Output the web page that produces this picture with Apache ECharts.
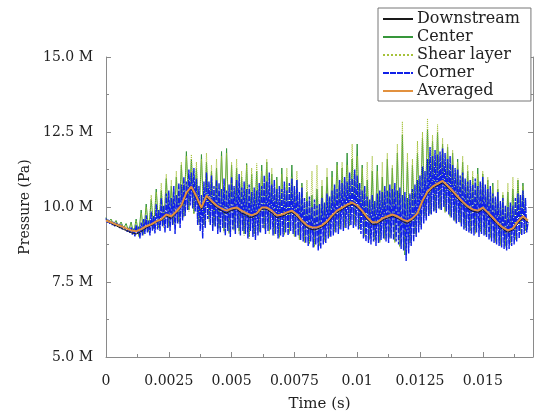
<!DOCTYPE html>
<html>
<head>
<meta charset="utf-8">
<script src="https://cdn.jsdelivr.net/npm/echarts@6/dist/echarts.min.js"></script>
<style>
  html, body { margin: 0; padding: 0; background: #fff; }
  #chart { width: 541px; height: 412px; }
</style>
</head>
<body>
<div id="chart"></div>
<script>
// Pressure probes (values in MPa). Corner is sampled every 0.05 ms,
// the other probes every 0.1 ms, the running average every 0.2 ms.
const cornerStep = 0.00005;
const probeStep = 0.0001;
const averagedStep = 0.0002;

const downstream = [
  9.58, 9.50, 9.47, 9.40, 9.38, 9.33, 9.30, 9.25, 9.22, 9.18,
  9.15, 9.12, 9.10, 9.14, 9.18, 9.24, 9.30, 9.35, 9.38, 9.44,
  9.48, 9.55, 9.55, 9.62, 9.70, 9.66, 9.62, 9.72, 9.80, 9.92,
  10.00, 10.20, 10.42, 10.55, 10.62, 10.45, 10.28, 10.08, 9.92, 10.12,
  10.32, 10.22, 10.15, 10.05, 9.98, 9.92, 9.88, 9.82, 9.80, 9.85,
  9.88, 9.92, 9.93, 9.86, 9.80, 9.76, 9.72, 9.66, 9.65, 9.70,
  9.74, 9.82, 9.92, 9.94, 9.92, 9.86, 9.80, 9.72, 9.65, 9.67,
  9.70, 9.72, 9.76, 9.80, 9.82, 9.76, 9.68, 9.58, 9.48, 9.40,
  9.32, 9.28, 9.25, 9.24, 9.26, 9.30, 9.34, 9.40, 9.46, 9.56,
  9.66, 9.74, 9.82, 9.88, 9.92, 9.98, 10.02, 10.06, 10.10, 10.04,
  9.98, 9.90, 9.82, 9.70, 9.58, 9.50, 9.42, 9.42, 9.44, 9.50,
  9.55, 9.60, 9.62, 9.66, 9.70, 9.66, 9.62, 9.58, 9.52, 9.48,
  9.46, 9.52, 9.56, 9.66, 9.75, 9.96, 10.16, 10.30, 10.45, 10.55,
  10.62, 10.68, 10.72, 10.76, 10.80, 10.74, 10.64, 10.55, 10.48, 10.38,
  10.28, 10.20, 10.12, 10.04, 9.96, 9.90, 9.86, 9.84, 9.82, 9.86,
  9.92, 9.84, 9.76, 9.66, 9.58, 9.48, 9.40, 9.32, 9.26, 9.20,
  9.16, 9.20, 9.24, 9.34, 9.46, 9.55, 9.62, 9.56, 9.50
];

const center = [
  9.65, 9.50, 9.60, 9.42, 9.55, 9.35, 9.50, 9.30, 9.45, 9.20,
  9.50, 9.10, 9.60, 9.05, 9.90, 9.10, 10.10, 9.20, 10.25, 9.30,
  10.60, 9.30, 10.55, 9.40, 10.95, 9.35, 10.70, 9.45, 11.00, 9.50,
  11.40, 9.70, 11.85, 9.90, 11.60, 9.80, 11.30, 9.50, 11.75, 9.40,
  11.50, 9.60, 11.20, 9.40, 11.30, 9.30, 11.85, 9.20, 11.95, 9.15,
  11.40, 9.25, 11.30, 9.20, 11.00, 9.10, 11.45, 9.00, 11.10, 9.10,
  11.20, 9.20, 11.40, 9.30, 11.50, 9.20, 11.10, 9.10, 11.00, 9.00,
  11.30, 9.10, 11.00, 9.15, 11.40, 9.05, 10.90, 8.95, 10.80, 8.85,
  10.50, 8.80, 10.40, 8.70, 10.60, 8.75, 10.70, 8.90, 11.00, 9.05,
  11.20, 9.20, 11.50, 9.30, 11.30, 9.35, 11.80, 9.40, 11.60, 9.45,
  12.10, 9.30, 11.40, 9.05, 10.90, 8.95, 11.20, 8.90, 11.40, 8.85,
  11.00, 8.95, 11.60, 9.00, 11.30, 8.85, 11.80, 8.70, 12.40, 8.40,
  11.50, 8.80, 11.40, 9.10, 11.80, 9.40, 12.30, 9.70, 12.60, 9.80,
  12.20, 9.90, 12.50, 9.95, 12.10, 9.85, 12.00, 9.70, 11.80, 9.55,
  11.60, 9.50, 11.50, 9.30, 11.20, 9.20, 11.00, 9.15, 11.30, 9.20,
  11.10, 9.10, 10.90, 9.00, 10.80, 8.85, 10.60, 8.75, 10.40, 8.70,
  10.50, 8.80, 10.60, 8.95, 10.90, 9.15, 10.80, 9.20, 9.45
];

const shearLayer = [
  9.62, 9.48, 9.58, 9.40, 9.52, 9.33, 9.46, 9.28, 9.40, 9.18,
  9.45, 9.08, 9.55, 9.00, 9.80, 9.05, 10.00, 9.15, 10.40, 9.25,
  10.50, 9.25, 10.80, 9.30, 11.10, 9.30, 10.90, 9.40, 11.20, 9.45,
  11.50, 9.65, 11.70, 9.85, 11.75, 9.75, 11.50, 9.40, 11.60, 9.35,
  11.80, 9.50, 11.40, 9.35, 11.60, 9.25, 11.70, 9.15, 11.80, 9.10,
  11.50, 9.20, 11.60, 9.10, 11.20, 9.05, 11.40, 8.95, 11.30, 9.05,
  11.45, 9.15, 11.20, 9.25, 11.60, 9.10, 11.30, 9.05, 10.90, 8.95,
  11.10, 9.05, 11.30, 9.10, 11.00, 9.00, 11.20, 8.90, 10.70, 8.80,
  10.90, 8.75, 11.20, 8.65, 11.40, 8.70, 10.90, 8.85, 11.30, 9.00,
  11.00, 9.15, 11.40, 9.25, 11.50, 9.30, 11.40, 9.35, 12.10, 9.40,
  11.70, 9.25, 11.30, 9.00, 11.50, 8.90, 11.70, 8.85, 11.20, 8.80,
  11.50, 8.90, 11.80, 8.95, 11.40, 8.80, 12.10, 8.65, 12.85, 8.50,
  11.80, 8.75, 11.60, 9.05, 12.20, 9.35, 12.50, 9.65, 12.95, 9.75,
  12.40, 9.85, 12.75, 9.90, 12.30, 9.80, 12.10, 9.65, 11.90, 9.50,
  11.50, 9.45, 11.70, 9.25, 11.40, 9.15, 11.20, 9.10, 11.10, 9.15,
  11.20, 9.05, 11.00, 8.95, 10.70, 8.80, 10.90, 8.70, 10.50, 8.65,
  10.80, 8.75, 11.00, 8.90, 10.95, 9.10, 10.70, 9.15, 9.42
];

const corner = [
  9.62, 9.48, 9.57, 9.44, 9.52, 9.40, 9.50, 9.36, 9.47, 9.38,
  9.45, 9.30, 9.41, 9.26, 9.36, 9.28, 9.33, 9.18, 9.30, 9.14,
  9.32, 9.08, 9.28, 9.02, 9.40, 9.10, 9.35, 8.95, 9.48, 9.05,
  9.60, 9.10, 9.72, 9.15, 9.55, 9.05, 9.85, 9.20, 9.70, 9.12,
  10.10, 9.25, 9.90, 9.20, 10.30, 9.35, 10.05, 9.15, 10.45, 9.30,
  10.55, 9.20, 10.30, 9.40, 10.70, 9.10, 10.40, 9.45, 10.80, 9.30,
  10.75, 9.55, 11.00, 9.70, 10.85, 9.90, 11.25, 10.05, 11.15, 9.95,
  11.30, 9.85, 10.95, 9.40, 10.70, 9.20, 10.40, 8.95, 10.85, 9.30,
  11.15, 9.60, 10.85, 9.40, 11.05, 9.20, 10.70, 9.35, 10.90, 9.10,
  10.80, 9.15, 10.60, 9.30, 10.95, 9.05, 10.55, 9.20, 10.75, 9.00,
  11.00, 9.25, 10.70, 9.10, 10.90, 9.30, 11.10, 9.05, 10.65, 9.20,
  10.85, 9.10, 10.60, 8.95, 10.75, 9.20, 10.50, 9.00, 10.65, 8.90,
  10.55, 9.05, 10.80, 9.15, 10.70, 9.30, 11.05, 9.10, 10.85, 9.20,
  11.15, 9.25, 10.75, 9.05, 10.90, 9.10, 10.60, 8.95, 10.70, 9.05,
  10.60, 9.00, 10.85, 9.15, 10.55, 9.05, 10.80, 9.20, 10.95, 9.10,
  10.70, 9.00, 10.90, 9.05, 10.50, 8.90, 10.65, 8.85, 10.30, 8.80,
  10.20, 8.70, 10.35, 8.85, 10.00, 8.65, 10.25, 8.75, 10.05, 8.55,
  10.10, 8.60, 10.30, 8.75, 10.15, 8.80, 10.45, 8.95, 10.35, 9.00,
  10.55, 9.05, 10.75, 9.15, 10.60, 9.10, 10.90, 9.25, 10.80, 9.20,
  11.00, 9.30, 10.85, 9.25, 11.15, 9.40, 10.95, 9.30, 11.25, 9.35,
  11.05, 9.25, 10.80, 9.10, 10.55, 8.95, 10.70, 8.85, 10.35, 8.80,
  10.25, 8.75, 10.40, 8.85, 10.20, 8.70, 10.45, 8.80, 10.55, 8.90,
  10.50, 8.95, 10.70, 8.85, 10.55, 8.80, 10.75, 8.95, 10.60, 8.90,
  10.80, 8.85, 10.55, 8.75, 10.65, 8.60, 10.40, 8.55, 10.50, 8.20,
  10.30, 8.45, 10.45, 8.70, 10.60, 8.85, 10.75, 9.00, 10.90, 9.15,
  11.05, 9.25, 11.35, 9.45, 11.20, 9.55, 11.60, 9.70, 12.00, 9.75,
  11.70, 9.85, 11.90, 9.80, 11.75, 9.95, 11.85, 9.90, 11.95, 10.00,
  11.80, 9.85, 11.60, 9.75, 11.70, 9.65, 11.40, 9.55, 11.30, 9.45,
  11.25, 9.50, 11.05, 9.35, 11.15, 9.25, 10.95, 9.20, 10.85, 9.15,
  10.90, 9.10, 10.75, 9.05, 10.95, 9.15, 10.70, 9.00, 10.85, 9.10,
  11.00, 9.05, 10.75, 9.00, 10.60, 8.90, 10.70, 8.85, 10.45, 8.80,
  10.35, 8.75, 10.50, 8.70, 10.20, 8.65, 10.30, 8.60, 10.05, 8.55,
  10.00, 8.60, 10.15, 8.70, 10.05, 8.75, 10.30, 8.85, 10.45, 8.95,
  10.40, 9.05, 10.55, 9.10, 10.30, 9.15, 9.50
];

const averaged = [
  9.55, 9.49, 9.42, 9.36, 9.29, 9.22, 9.19, 9.26, 9.36, 9.42,
  9.52, 9.59, 9.75, 9.69, 9.85, 10.05, 10.48, 10.68, 10.35, 9.98,
  10.38, 10.21, 10.05, 9.95, 9.88, 9.95, 9.98, 9.88, 9.79, 9.72,
  9.79, 9.98, 9.98, 9.88, 9.72, 9.75, 9.82, 9.88, 9.75, 9.55,
  9.39, 9.32, 9.32, 9.39, 9.52, 9.72, 9.88, 9.98, 10.08, 10.15,
  10.05, 9.88, 9.65, 9.49, 9.49, 9.62, 9.69, 9.75, 9.69, 9.59,
  9.52, 9.62, 9.79, 10.21, 10.51, 10.68, 10.78, 10.87, 10.71, 10.54,
  10.35, 10.18, 10.02, 9.92, 9.88, 9.98, 9.82, 9.65, 9.46, 9.32,
  9.22, 9.29, 9.52, 9.69, 9.55
];

const xTicks = { min: 0, max: 0.017, interval: 0.0025 };
const yTicks = { min: 5, max: 15, interval: 2.5 };

function toPairs(values, step) {
  return values.map((v, i) => [+(i * step).toFixed(6), v]);
}

const serifFont = "'DejaVu Serif', 'Liberation Serif', serif";
const axisGrey = '#8a8a8a';
const textColor = '#222';

const chart = echarts.init(document.getElementById('chart'), null, { renderer: 'canvas' });

function lineSeries(name, values, step, color, width, type, z) {
  return {
    name: name,
    type: 'line',
    data: toPairs(values, step),
    showSymbol: false,
    symbol: 'none',
    silent: true,
    animation: false,
    z: z,
    itemStyle: { color: color },
    lineStyle: { color: color, width: width, type: type }
  };
}

const yAxisBase = {
  type: 'value',
  min: yTicks.min,
  max: yTicks.max,
  interval: yTicks.interval,
  axisLine: { show: true, lineStyle: { color: axisGrey, width: 1 } },
  axisTick: { show: true, inside: true, length: 5, lineStyle: { color: axisGrey } },
  minorTick: { show: true, splitNumber: 2, length: 3, lineStyle: { color: axisGrey } },
  splitLine: { show: false }
};

chart.setOption({
  backgroundColor: '#fff',
  animation: false,
  grid: {
    left: 106, right: 8, top: 57, bottom: 55,
    containLabel: false, outerBoundsMode: 'none'
  },
  legend: {
    orient: 'vertical',
    left: 378,
    top: 8,
    data: ['Downstream', 'Center', 'Shear layer', 'Corner', 'Averaged'],
    itemWidth: 30,
    itemHeight: 14,
    itemGap: 2,
    padding: [3, 11, 2, 4],
    backgroundColor: '#fff',
    borderColor: '#777',
    borderWidth: 1,
    itemStyle: { opacity: 0 },
    textStyle: {
      fontFamily: serifFont, fontSize: 16,
      color: textColor, padding: [0, 0, 0, -1]
    }
  },
  xAxis: {
    type: 'value',
    min: xTicks.min,
    max: xTicks.max,
    interval: xTicks.interval,
    name: 'Time (s)',
    nameLocation: 'middle',
    nameGap: 40,
    nameTextStyle: { fontFamily: serifFont, fontSize: 15, color: textColor },
    axisLine: { show: true, lineStyle: { color: axisGrey, width: 1 } },
    axisTick: { show: true, inside: true, length: 5, lineStyle: { color: axisGrey } },
    minorTick: { show: true, splitNumber: 2, length: 3, lineStyle: { color: axisGrey } },
    splitLine: { show: false },
    axisLabel: {
      showMaxLabel: false,
      margin: 17,
      fontFamily: serifFont,
      fontSize: 14,
      color: textColor,
      formatter: v => String(+v.toFixed(4))
    }
  },
  yAxis: [
    Object.assign({}, yAxisBase, {
      position: 'left',
      name: 'Pressure (Pa)',
      nameLocation: 'middle',
      nameGap: 72,
      nameRotate: 90,
      nameTextStyle: { fontFamily: serifFont, fontSize: 14, color: textColor },
      axisLabel: {
        margin: 13,
        fontFamily: serifFont,
        fontSize: 14,
        color: textColor,
        formatter: v => v.toFixed(1) + ' M'
      }
    }),
    Object.assign({}, yAxisBase, {
      position: 'right',
      axisLabel: { show: false }
    })
  ],
  series: [
    lineSeries('Center', center, probeStep, '#36963a', 1, 'solid', 1),
    lineSeries('Shear layer', shearLayer, probeStep, '#a6c23a', 1, 'dotted', 2),
    lineSeries('Corner', corner, cornerStep, '#1020e8', 1.4, [6, 1], 3),
    lineSeries('Downstream', downstream, probeStep, '#1a1a1a', 1, 'solid', 4),
    lineSeries('Averaged', averaged, averagedStep, '#e2913f', 2, 'solid', 5)
  ]
});
</script>
</body>
</html>
